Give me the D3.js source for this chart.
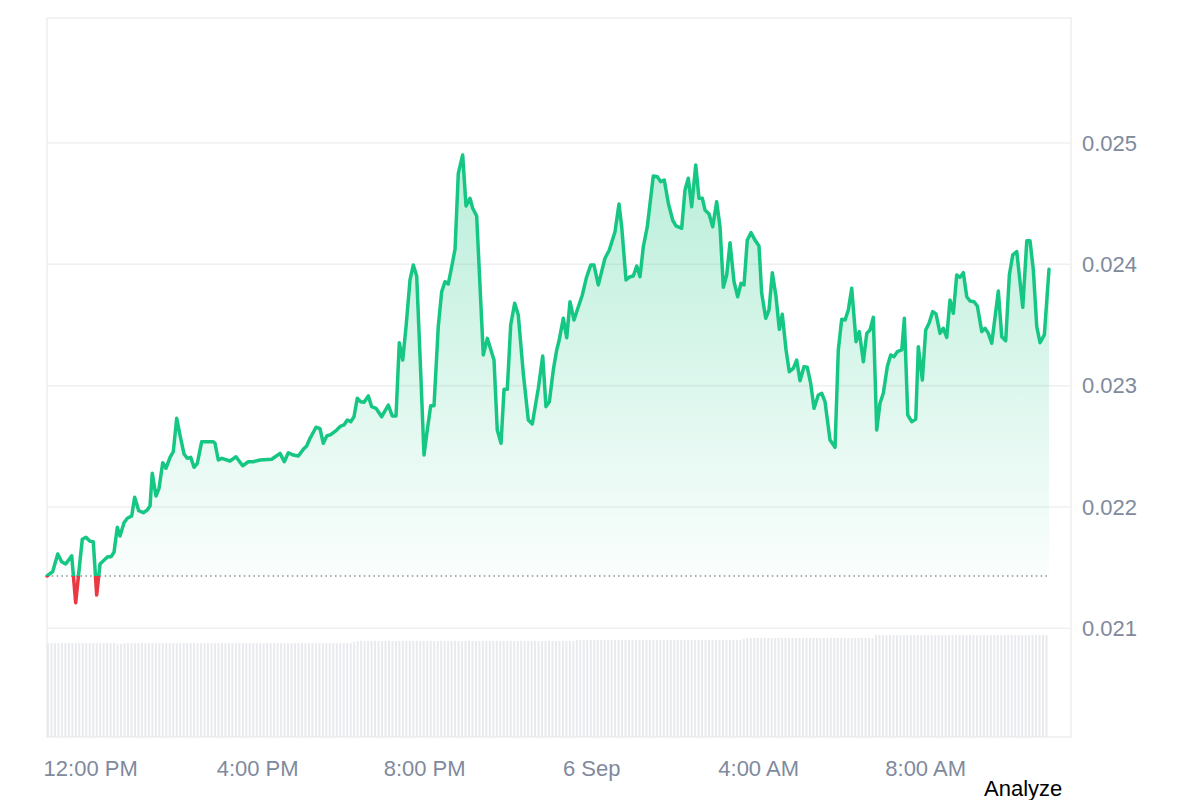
<!DOCTYPE html>
<html>
<head>
<meta charset="utf-8">
<script src="https://cdn.jsdelivr.net/npm/d3@7/dist/d3.min.js"></script>
<style>
  html, body { margin: 0; padding: 0; background: #ffffff; }
  svg { display: block; font-family: "Liberation Sans", Arial, Helvetica, sans-serif; }
</style>
</head>
<body>
<svg id="chart" width="1200" height="800"></svg>
<script>
// ---- data ----
const startTime = new Date(2024, 8, 5, 10, 58);
// minutes since startTime
const minutes = [
  0, 8.2, 15.4, 21.1, 26.9, 35.5, 41.2, 50.7, 56, 61.8, 66.5, 71.4, 76.2, 83.4, 87.2, 92, 96.3, 101, 104.9, 110.7,
  115.4, 121.7, 126, 131.8, 138.4, 144.1, 148, 151.3, 156.6, 161, 166.3, 171, 176.8, 181.5, 186.4, 191.1, 196.9, 201.6, 206.5, 211.3,
  216, 222.3, 239, 241.4, 246.2, 251.1, 263, 271.6, 281.2, 289.3, 296.5, 306.1, 322.9, 334.9, 341, 346.8, 354, 361.2, 368.3, 373.2,
  378, 386.6, 392.3, 397.1, 402, 407.7, 416.3, 422.1, 426.8, 431.6, 436.5, 441.2, 445.9, 450.8, 455.6, 461.8, 466.6, 472.8, 481, 490.5,
  496.2, 501.6, 506.3, 511.2, 516, 521.7, 526.4, 531.3, 537.1, 541.8, 546.5, 551.4, 556.2, 562.3, 567.2, 572, 576.7, 581.6, 586.4, 591.1,
  597.4, 602.2, 607.9, 611.8, 617.5, 627, 632.8, 642.4, 647.1, 652.5, 656.8, 661.5, 666.4, 672.1, 677.3, 684.5, 691.7, 697.4, 706.1, 712.4,
  717.1, 721.9, 727.6, 732.5, 735.8, 742, 746.9, 751.6, 757.4, 762.1, 769.3, 775.6, 781.4, 786.1, 792.3, 801.9, 808.1, 816.3, 822, 825.9,
  832.1, 837.8, 842.6, 847.5, 852.2, 857, 862.7, 871.3, 877.1, 882, 887.1, 892.9, 899.2, 903.9, 912.1, 916.9, 921.6, 926.5, 932.3, 937,
  941.8, 945.6, 951.4, 956.7, 962.4, 967.2, 972, 976.8, 981.6, 987.3, 992.6, 997.4, 1001.7, 1006.4, 1011.7, 1017.5, 1023.2, 1027.1, 1032.9, 1037.6,
  1042.4, 1047.7, 1052.4, 1056.7, 1062.1, 1066.8, 1072.5, 1077.4, 1082.2, 1087.9, 1092.6, 1097.5, 1102.3, 1108.5, 1113.4, 1118.1, 1125.3, 1132.5, 1137.2, 1142.1,
  1146.9, 1151.6, 1156.5, 1162.7, 1167.4, 1173.2, 1178.1, 1182.8, 1187.5, 1192.4, 1197.1, 1201.9, 1207.6, 1212.5, 1217.3, 1222, 1228.4, 1232.1, 1237, 1242.7,
  1248.5, 1252.2, 1258, 1262.8, 1267.6, 1272.9, 1277.6, 1283.4, 1288.1, 1293, 1297.7, 1302.5, 1307.4, 1312.1, 1316.9, 1321.8, 1326.5, 1332.3, 1337, 1343.4,
  1348.1, 1352.9, 1357.7, 1367.2, 1372.1, 1377.8, 1383, 1387.9, 1393.7, 1402.3, 1408.1, 1412.7, 1417.5, 1422.4, 1427.1, 1433.3, 1440
];
const prices = [
  0.021431, 0.021467, 0.021612, 0.021549, 0.021530, 0.021598, 0.021211, 0.021734, 0.021750, 0.021717, 0.021714, 0.021274, 0.021530, 0.021569, 0.021590, 0.021590, 0.021626, 0.021832, 0.021761, 0.021870,
  0.021907, 0.021926, 0.022080, 0.021969, 0.021953, 0.021975, 0.022008, 0.022278, 0.022090, 0.022154, 0.022365, 0.022319, 0.022409, 0.022456, 0.022731, 0.022593, 0.022437, 0.022401, 0.022409, 0.022327,
  0.022360, 0.022538, 0.022538, 0.022525, 0.022387, 0.022401, 0.022379, 0.022414, 0.022340, 0.022373, 0.022373, 0.022387, 0.022393, 0.022442, 0.022373, 0.022447, 0.022428, 0.022420, 0.022475, 0.022503,
  0.022566, 0.022657, 0.022645, 0.022525, 0.022585, 0.022596, 0.022634, 0.022667, 0.022676, 0.022717, 0.022703, 0.022744, 0.022896, 0.022868, 0.022863, 0.022915, 0.022827, 0.022813, 0.022744, 0.022840,
  0.022750, 0.022750, 0.023354, 0.023211, 0.023486, 0.023871, 0.023994, 0.023904, 0.023102, 0.022428, 0.022634, 0.022835, 0.022835, 0.023486, 0.023774, 0.023857, 0.023838, 0.023980, 0.024124, 0.024750,
  0.024901, 0.024481, 0.024544, 0.024462, 0.024398, 0.023253, 0.023390, 0.023211, 0.022634, 0.022525, 0.022970, 0.022970, 0.023500, 0.023679, 0.023582, 0.023102, 0.022717, 0.022684, 0.022978, 0.023244,
  0.022827, 0.022868, 0.023129, 0.023294, 0.023368, 0.023555, 0.023395, 0.023692, 0.023541, 0.023624, 0.023747, 0.023898, 0.023994, 0.023994, 0.023830, 0.024050, 0.024118, 0.024269, 0.024497, 0.024310,
  0.023871, 0.023898, 0.023904, 0.023986, 0.023898, 0.024145, 0.024310, 0.024728, 0.024722, 0.024681, 0.024695, 0.024503, 0.024365, 0.024316, 0.024297, 0.024613, 0.024709, 0.024475, 0.024819, 0.024544,
  0.024544, 0.024448, 0.024415, 0.024310, 0.024516, 0.024310, 0.023811, 0.023912, 0.024178, 0.023857, 0.023733, 0.023844, 0.023830, 0.024200, 0.024261, 0.024200, 0.024151, 0.023761, 0.023555, 0.023624,
  0.023931, 0.023733, 0.023464, 0.023588, 0.023294, 0.023115, 0.023143, 0.023211, 0.023041, 0.023156, 0.023151, 0.023019, 0.022813, 0.022923, 0.022937, 0.022868, 0.022552, 0.022492, 0.023294, 0.023547,
  0.023541, 0.023624, 0.023802, 0.023362, 0.023445, 0.023197, 0.023431, 0.023459, 0.023563, 0.022634, 0.022855, 0.022937, 0.023156, 0.023253, 0.023239, 0.023280, 0.023294, 0.023555, 0.022758, 0.022703,
  0.022725, 0.023321, 0.023047, 0.023459, 0.023514, 0.023610, 0.023591, 0.023431, 0.023473, 0.023398, 0.023706, 0.023596, 0.023912, 0.023893, 0.023931, 0.023733, 0.023698, 0.023692, 0.023656, 0.023445,
  0.023473, 0.023431, 0.023349, 0.023780, 0.023403, 0.023370, 0.023912, 0.024077, 0.024104, 0.023646, 0.024195, 0.024195, 0.023953, 0.023486, 0.023354, 0.023418, 0.023959
];
// volume bars, one per 5 minutes (relative units)
const volumes = [
  93,93,93,93,93,93,93,93,93,93,93,93,
  93,93,93,93,93,93,93,93,92,92,93,93,
  93,93,93,93,93,93,93,93,93,93,93,93,
  93,93,93,93,93,93,93,93,93,93,93,93,
  93,93,93,93,93,93,93,93,93,93,93,93,
  93,93,93,93,93,93,93,93,93,93,93,93,
  93,93,93,93,93,93,93,93,93,93,93,93,
  93,93,93,93,94,95,95,95,95,95,95,95,
  95,95,95,95,95,95,95,95,95,95,95,95,
  95,95,95,95,95,95,95,95,95,95,95,95,
  95,95,95,95,95,95,95,95,95,95,95,95,
  95,95,95,95,95,95,95,95,95,95,95,95,
  95,95,95,95,95,95,95,95,96,96,96,96,
  96,96,96,96,96,96,96,96,96,96,96,96,
  96,96,96,96,96,96,96,96,96,96,96,96,
  96,96,96,96,96,96,96,96,96,96,96,96,
  96,96,96,96,96,96,96,96,97,98,98,98,
  98,98,98,98,98,98,98,98,98,98,98,98,
  98,98,98,98,98,98,98,98,98,98,98,98,
  98,98,98,98,98,98,98,98,98,98,101,101,
  101,101,101,101,101,101,101,101,101,101,101,101,
  101,101,101,101,101,101,101,101,101,101,101,101,
  101,101,101,101,101,101,101,101,101,101,101,101,
  101,101,101,101,101,101,101,101,101,101,101,101
];
const yTicks = [0.021, 0.022, 0.023, 0.024, 0.025];
const xTickTimes = [
  new Date(2024, 8, 5, 12, 0), new Date(2024, 8, 5, 16, 0), new Date(2024, 8, 5, 20, 0),
  new Date(2024, 8, 6, 0, 0), new Date(2024, 8, 6, 4, 0), new Date(2024, 8, 6, 8, 0)
];
const xTickLabels = ["12:00 PM", "4:00 PM", "8:00 PM", "6 Sep", "4:00 AM", "8:00 AM"];

// ---- layout ----
const frame = { left: 47, right: 1071, top: 18, bottom: 737 };
const dataRight = 1049;
const green = "#16c784", red = "#ea3943", axisGrey = "#808a9d", gridCol = "#eff0f2";
const fontFam = '"Liberation Sans", Arial, sans-serif';

const svg = d3.select("#chart");
const points = minutes.map((m, i) => ({ t: new Date(startTime.getTime() + m * 60000), p: prices[i] }));
const endTime = new Date(startTime.getTime() + 1440 * 60000);

const x = d3.scaleTime().domain([startTime, endTime]).range([frame.left, dataRight]);
const y = d3.scaleLinear().domain([0.021, 0.025]).range([628.3, 143]);
const vY = d3.scaleLinear().domain([0, 100]).range([frame.bottom, 636]);
const base = prices[0];
const baseY = y(base);

const defs = svg.append("defs");
const gGrad = defs.append("linearGradient").attr("id", "gGrad")
  .attr("gradientUnits", "userSpaceOnUse").attr("x1", 0).attr("x2", 0)
  .attr("y1", y(d3.max(prices))).attr("y2", baseY);
gGrad.append("stop").attr("offset", 0).attr("stop-color", green).attr("stop-opacity", 0.3);
gGrad.append("stop").attr("offset", 1).attr("stop-color", green).attr("stop-opacity", 0.02);
const rGrad = defs.append("linearGradient").attr("id", "rGrad")
  .attr("gradientUnits", "userSpaceOnUse").attr("x1", 0).attr("x2", 0)
  .attr("y1", baseY).attr("y2", y(d3.min(prices)));
rGrad.append("stop").attr("offset", 0).attr("stop-color", red).attr("stop-opacity", 0.02);
rGrad.append("stop").attr("offset", 1).attr("stop-color", red).attr("stop-opacity", 0.3);
defs.append("clipPath").attr("id", "above").append("rect")
  .attr("x", 0).attr("y", 0).attr("width", 1200).attr("height", baseY);
defs.append("clipPath").attr("id", "below").append("rect")
  .attr("x", 0).attr("y", baseY).attr("width", 1200).attr("height", 800 - baseY);

// grid lines
svg.append("g").selectAll("line").data(yTicks).join("line")
  .attr("x1", frame.left).attr("x2", frame.right)
  .attr("y1", d => y(d)).attr("y2", d => y(d))
  .attr("stroke", gridCol).attr("stroke-width", 1.5);

// frame
svg.append("rect")
  .attr("x", frame.left).attr("y", frame.top)
  .attr("width", frame.right - frame.left).attr("height", frame.bottom - frame.top)
  .attr("fill", "none").attr("stroke", "#eceef1").attr("stroke-width", 1.5);

// volume bars
svg.append("g").selectAll("rect").data(volumes).join("rect")
  .attr("x", (d, i) => x(new Date(startTime.getTime() + i * 5 * 60000)))
  .attr("width", 2)
  .attr("y", d => vY(d))
  .attr("height", d => vY(0) - vY(d))
  .attr("fill", "#e8eaee");

// areas
const area = d3.area().x(d => x(d.t)).y0(baseY).y1(d => y(d.p));
svg.append("path").datum(points).attr("d", area).attr("fill", "url(#gGrad)").attr("clip-path", "url(#above)");
svg.append("path").datum(points).attr("d", area).attr("fill", "url(#rGrad)").attr("clip-path", "url(#below)");

// baseline (dotted)
svg.append("line")
  .attr("x1", frame.left).attr("x2", dataRight)
  .attr("y1", baseY).attr("y2", baseY)
  .attr("stroke", "#8a8f99").attr("stroke-width", 1.5)
  .attr("stroke-dasharray", "1.5,3.3");

// price line
const line = d3.line().x(d => x(d.t)).y(d => y(d.p));
svg.append("path").datum(points).attr("d", line)
  .attr("fill", "none").attr("stroke", green).attr("stroke-width", 3.5)
  .attr("stroke-linejoin", "round").attr("stroke-linecap", "round")
  .attr("clip-path", "url(#above)");
svg.append("path").datum(points).attr("d", line)
  .attr("fill", "none").attr("stroke", red).attr("stroke-width", 3.5)
  .attr("stroke-linejoin", "round").attr("stroke-linecap", "round")
  .attr("clip-path", "url(#below)");

// y axis (right)
const yAxis = svg.append("g").attr("transform", `translate(${frame.right},0)`)
  .call(d3.axisRight(y).tickValues(yTicks).tickSize(0).tickPadding(11).tickFormat(d3.format(".3f")));
yAxis.select(".domain").remove();
yAxis.selectAll("text").attr("fill", axisGrey).style("font-size", "22px").style("font-family", fontFam);

// x axis (bottom)
const xAxis = svg.append("g").attr("transform", `translate(0,${frame.bottom})`)
  .call(d3.axisBottom(x).tickValues(xTickTimes).tickSize(0).tickPadding(23)
    .tickFormat((d, i) => xTickLabels[i]));
xAxis.select(".domain").remove();
xAxis.selectAll("text").attr("fill", axisGrey).style("font-size", "22px").style("font-family", fontFam);

// "Analyze" label
svg.append("text").attr("x", 984).attr("y", 796)
  .attr("fill", "#000").style("font-size", "22px").style("font-family", fontFam)
  .text("Analyze");
</script>
</body>
</html>
